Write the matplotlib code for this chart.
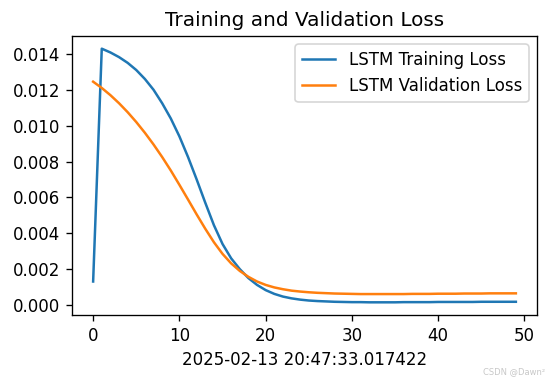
import numpy as np
import matplotlib
matplotlib.use("Agg")
import matplotlib.pyplot as plt

#Loss values per epoch
train_loss = [0.00131, 0.01429, 0.01408, 0.01382, 0.01350, 0.01310, 0.01260, 0.01200,
              0.01125, 0.01040, 0.00940, 0.00825, 0.00700, 0.00570, 0.00445, 0.00340,
              0.00260, 0.00200, 0.00150, 0.00112, 0.00083, 0.00062, 0.00047, 0.00037,
              0.00030, 0.00025, 0.00022, 0.00020, 0.00018, 0.00017, 0.00016, 0.00016,
              0.00015, 0.00015, 0.00015, 0.00015, 0.00016, 0.00016, 0.00016, 0.00016,
              0.00017, 0.00017, 0.00017, 0.00017, 0.00017, 0.00018, 0.00018, 0.00018,
              0.00018, 0.00018]
val_loss = [0.01245, 0.01210, 0.01170, 0.01125, 0.01075, 0.01020, 0.00960, 0.00895,
            0.00825, 0.00750, 0.00670, 0.00588, 0.00505, 0.00425, 0.00350, 0.00285,
            0.00232, 0.00190, 0.00157, 0.00131, 0.00112, 0.00098, 0.00088, 0.00080,
            0.00075, 0.00071, 0.00068, 0.00066, 0.00064, 0.00063, 0.00062, 0.00061,
            0.00061, 0.00061, 0.00061, 0.00061, 0.00061, 0.00062, 0.00062, 0.00062,
            0.00063, 0.00063, 0.00063, 0.00064, 0.00064, 0.00064, 0.00065, 0.00065,
            0.00065, 0.00065]
epochs = np.arange(len(train_loss))
stamp = "2025-02-13 20:47:33.017422"

DPI = 120
fig = plt.figure(figsize=(548/DPI, 380/DPI), dpi=DPI)
ax = fig.add_axes([72/548, 1-315/380, (537-72)/548, (315-36)/380])
ax.plot(epochs, train_loss, label="LSTM Training Loss")
ax.plot(epochs, val_loss, label="LSTM Validation Loss")
ax.set_title("Training and Validation Loss")
ax.set_xlabel(stamp)
ax.legend()
fig.text(0.995, 0.01, "CSDN @Dawn²", ha="right", va="bottom", fontsize=5, color="#c8c8c8")
plt.savefig("out.png", dpi=DPI)
